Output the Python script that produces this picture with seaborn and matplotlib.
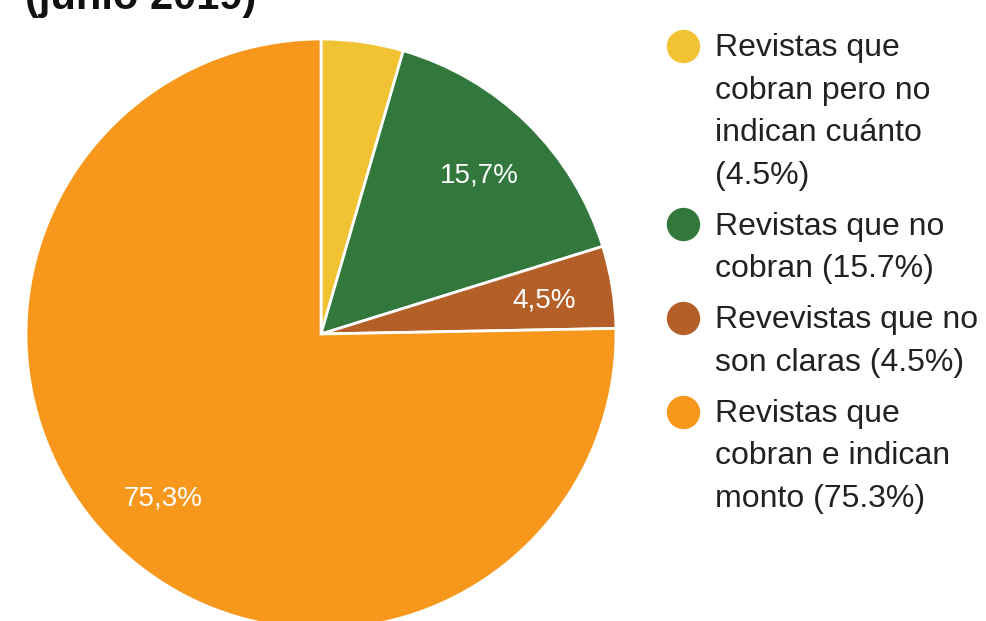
import matplotlib
matplotlib.use("Agg")
import matplotlib.pyplot as plt
import seaborn as sns
from matplotlib.lines import Line2D

sns.set_style("white")
plt.rcParams['font.family'] = ['Liberation Sans', 'DejaVu Sans']

# data
categories = [
    "Revistas que\ncobran pero no\nindican cuánto\n(4.5%)",
    "Revistas que no\ncobran (15.7%)",
    "Revevistas que no\nson claras (4.5%)",
    "Revistas que\ncobran e indican\nmonto (75.3%)",
]
values = [4.5, 15.7, 4.5, 75.3]
slice_labels = ["", "15,7%", "4,5%", "75,3%"]
colors = ["#F1C232", "#32783C", "#B45F28", "#F7981D"]

W, H = 986, 621
fig = plt.figure(figsize=(W / 100, H / 100), dpi=100)

cx, cy, r = 321, 334, 295
ax = fig.add_axes([(cx - r) / W, (H - cy - r) / H, 2 * r / W, 2 * r / H])

wedges, texts = ax.pie(
    values, colors=colors, startangle=90, counterclock=False,
    labels=slice_labels, labeldistance=0.765,
    wedgeprops=dict(edgecolor="white", linewidth=2),
    textprops=dict(color="white", fontsize=20),
)
for t in texts:
    t.set_horizontalalignment("center")
    t.set_verticalalignment("center_baseline")
ax.set_xlim(-1, 1)
ax.set_ylim(-1, 1)
ax.axis("off")

# title (cut off at top as in the original)
fig.text(25 / W, 1 - 9 / H, "(junio 2019)", fontsize=30, fontweight="bold",
         color="#111111", ha="left", va="baseline")

fs = 23
line_sp = 1.545
handles = [Line2D([0], [0], marker="o", linestyle="", markersize=23,
                  markerfacecolor=c, markeredgecolor=c) for c in colors]
leg = fig.legend(handles, categories, loc="upper left",
                 bbox_to_anchor=(667 / W, 1 - 33 / H), frameon=False,
                 fontsize=fs, labelspacing=0.66, handletextpad=0.5,
                 handlelength=1.0, borderaxespad=0, borderpad=0)
pitch_pt = 42.5 * 72 / 100  # line pitch in points
for t, h, lab in zip(leg.get_texts(), leg.legend_handles, categories):
    t.set_color("#222222")
    t.set_linespacing(line_sp)
    n = lab.count("\n")
    y = h.get_ydata()
    h.set_ydata([v + n * pitch_pt / 2 + 2 for v in y])

fig.savefig("out.png", dpi=100)
